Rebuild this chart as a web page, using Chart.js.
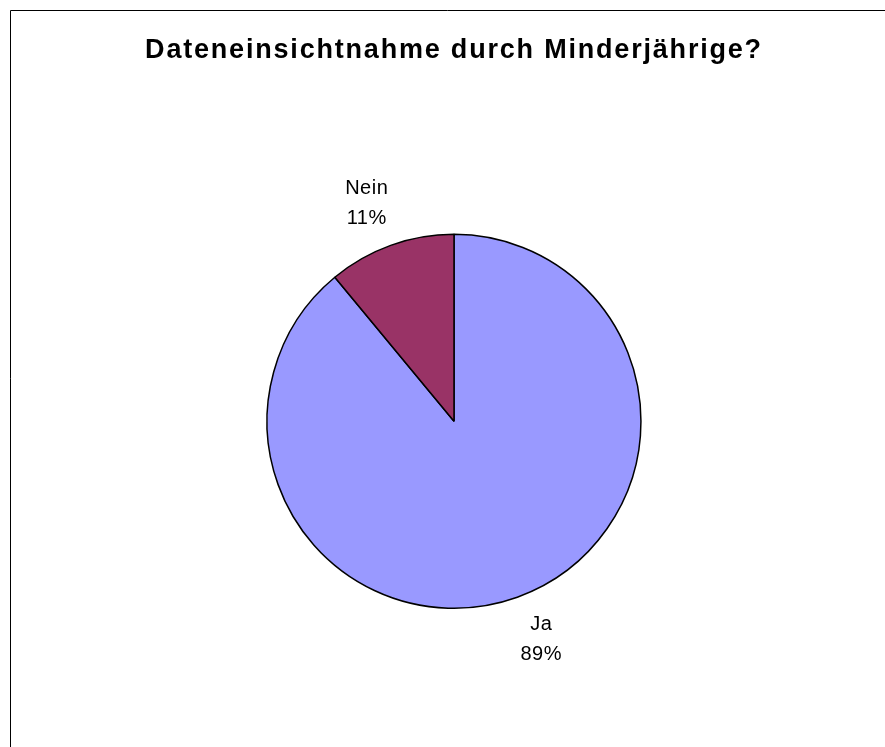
<!DOCTYPE html>
<html>
<head>
<meta charset="utf-8">
<script src="https://cdn.jsdelivr.net/npm/chart.js@4.4.0/dist/chart.umd.min.js"></script>
<style>
  html, body { margin: 0; padding: 0; background: #ffffff; }
  #wrap { width: 885px; height: 747px; }
</style>
</head>
<body>
<div id="wrap"><canvas id="chartPie"></canvas></div>
<script>
// Datos
const titulo = 'Dateneinsichtnahme durch Minderjährige?';
const categorias = ['Ja', 'Nein'];
const valores = [89, 11];
const colores = ['#9999FF', '#993366'];

// Marco del gráfico (linea izquierda y superior) + espaciado del titulo
const marcoPlugin = {
    id: 'marco',
    beforeDraw(chart) {
        const ctx = chart.ctx;
        ctx.save();
        ctx.strokeStyle = '#000000';
        ctx.lineWidth = 1;
        ctx.beginPath();
        ctx.moveTo(10.5, 747);
        ctx.lineTo(10.5, 10.5);
        ctx.lineTo(885, 10.5);
        ctx.stroke();
        ctx.restore();
        ctx.letterSpacing = '1.8px';
    },
    beforeDatasetsDraw(chart) {
        chart.ctx.letterSpacing = '0px';
    }
};

// Etiquetas: categoria + porcentaje fuera de cada sector
const etiquetasPlugin = {
    id: 'etiquetas',
    afterDatasetsDraw(chart) {
        const ctx = chart.ctx;
        const meta = chart.getDatasetMeta(0);
        const total = valores.reduce((a, b) => a + b, 0);
        ctx.save();
        ctx.letterSpacing = '0.5px';
        ctx.fillStyle = '#000000';
        ctx.font = '20px "Liberation Sans", Arial, sans-serif';
        ctx.textAlign = 'center';
        ctx.textBaseline = 'middle';
        meta.data.forEach((arc, i) => {
            const p = arc.getProps(['x', 'y', 'startAngle', 'endAngle', 'outerRadius'], true);
            const ang = (p.startAngle + p.endAngle) / 2 - 2 * Math.PI / 180;
            const r = p.outerRadius + 48;
            const x = p.x + Math.cos(ang) * r;
            const y = p.y + Math.sin(ang) * r;
            const pct = Math.round(valores[i] / total * 100) + '%';
            ctx.fillText(categorias[i], x, y - 15);
            ctx.fillText(pct, x, y + 15.5);
        });
        ctx.restore();
    }
};

const chartPie = new Chart(document.getElementById('chartPie'), {
    type: 'pie',
    data: {
        labels: categorias,
        datasets: [{
            data: valores,
            backgroundColor: colores,
            borderColor: '#000000',
            borderWidth: 1.5
        }]
    },
    options: {
        responsive: true,
        maintainAspectRatio: false,
        animation: false,
        layout: {
            padding: { top: 0, bottom: 138, left: 23, right: 0 }
        },
        plugins: {
            legend: { display: false },
            tooltip: { enabled: false },
            title: {
                display: true,
                text: titulo,
                color: '#000000',
                font: { family: '"Liberation Sans", Arial, sans-serif', size: 27, weight: 'bold', lineHeight: 1.2 },
                padding: { top: 34.8, bottom: 166.4 }
            }
        }
    },
    plugins: [marcoPlugin, etiquetasPlugin]
});
</script>
</body>
</html>
